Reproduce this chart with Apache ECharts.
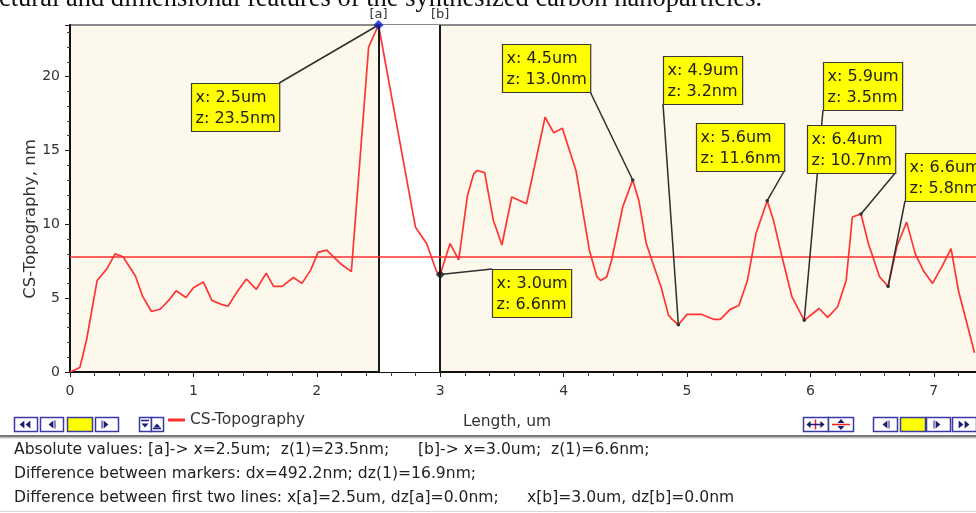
<!DOCTYPE html>
<html>
<head>
<meta charset="utf-8">
<script src="https://cdn.jsdelivr.net/npm/echarts@6/dist/echarts.min.js"></script>
<style>
  html, body { margin: 0; padding: 0; background: #fff; overflow: hidden; width: 976px; height: 513px; }
  #chart { width: 1010px; height: 513px; }
</style>
</head>
<body>
<div id="chart"></div>
<script>
// Cross-section profile: position along the scan line (um) and height (nm)
const lengthUm = [
  0.00, 0.08, 0.135, 0.22, 0.30, 0.365, 0.43, 0.53, 0.59, 0.66,
  0.73, 0.80, 0.86, 0.94, 1.00, 1.08, 1.15, 1.22, 1.28, 1.36,
  1.43, 1.51, 1.59, 1.65, 1.72, 1.81, 1.88, 1.95, 2.01, 2.08,
  2.19, 2.28, 2.42, 2.50, 2.76, 2.80, 2.89, 2.97, 3.00, 3.08,
  3.15, 3.22, 3.27, 3.30, 3.36, 3.43, 3.50, 3.58, 3.70, 3.85,
  3.92, 3.99, 4.10, 4.21, 4.27, 4.30, 4.35, 4.39, 4.48, 4.56,
  4.61, 4.67, 4.72, 4.79, 4.85, 4.88, 4.93, 5.00, 5.12, 5.22,
  5.27, 5.35, 5.42, 5.49, 5.56, 5.65, 5.70, 5.77, 5.85, 5.95,
  6.07, 6.14, 6.22, 6.29, 6.34, 6.41, 6.47, 6.56, 6.63, 6.70,
  6.78, 6.85, 6.92, 6.99, 7.07, 7.14, 7.20, 7.33
];
const heightNm = [
  0.0, 0.3, 2.2, 6.2, 7.0, 8.0, 7.8, 6.5, 5.1, 4.1,
  4.25, 4.85, 5.5, 5.05, 5.7, 6.1, 4.85, 4.6, 4.45, 5.5,
  6.3, 5.6, 6.7, 5.8, 5.8, 6.4, 6.0, 6.9, 8.1, 8.25,
  7.35, 6.8, 22.0, 23.5, 11.6, 9.8, 8.7, 6.8, 6.6, 8.7,
  7.6, 11.9, 13.4, 13.65, 13.5, 10.3, 8.6, 11.85, 11.4, 17.25,
  16.2, 16.5, 13.65, 8.2, 6.45, 6.2, 6.45, 7.6, 11.2, 13.0,
  11.6, 8.7, 7.45, 5.76, 3.85, 3.56, 3.2, 3.9, 3.9, 3.56,
  3.56, 4.24, 4.5, 6.2, 9.4, 11.6, 10.3, 7.8, 5.1, 3.5,
  4.3, 3.7, 4.4, 6.2, 10.5, 10.7, 8.7, 6.45, 5.8, 8.5,
  10.15, 8.0, 6.8, 6.0, 7.2, 8.35, 5.5, 1.3
];

// Reference level and the two cursor markers
const levelNm = 7.8;
const markerA = 2.5;
const markerB = 3.0;

// Points that carry a value call-out (x positions present in lengthUm)
const calloutX = [2.5, 4.56, 4.93, 5.65, 5.95, 6.41, 6.63, 3.0];
// Call-out box placement (top-left, px) and which corner the leader leaves from
const calloutBox = [
  [191, 83, 'tr'], [502, 44, 'br'], [663, 56, 'bl'], [696, 123, 'br'],
  [823, 62, 'bl'], [807, 125, 'br'], [905, 153, 'bl'], [492, 269, 'tl']
];

const captionText = 'ctural and dimensional features of the synthesized carbon nanoparticles.';
const infoLines = [
  ['Absolute values: [a]-> x=2.5um;  z(1)=23.5nm;', '[b]-> x=3.0um;  z(1)=6.6nm;'],
  ['Difference between markers: dx=492.2nm; dz(1)=16.9nm;', ''],
  ['Difference between first two lines: x[a]=2.5um, dz[a]=0.0nm;', 'x[b]=3.0um, dz[b]=0.0nm']
];

const FONT = '"DejaVu Sans", Verdana, sans-serif';
const chart = echarts.init(document.getElementById('chart'), null, { renderer: 'canvas' });

const profile = lengthUm.map((x, i) => [x, heightNm[i]]);
function zAt(x) { return heightNm[lengthUm.indexOf(x)]; }

chart.setOption({
  animation: false,
  backgroundColor: '#ffffff',
  grid: {
    left: 70, top: 25, right: 14.5, bottom: 141,
    show: true, backgroundColor: '#fcf8ec', borderColor: '#8a8a8a', borderWidth: 2
  },
  legend: {
    data: ['CS-Topography'],
    left: 168, top: 412, padding: 0,
    icon: 'rect', itemWidth: 17, itemHeight: 3, itemGap: 6,
    textStyle: { fontFamily: FONT, fontSize: 15.5, color: '#333' }
  },
  xAxis: {
    type: 'value', min: 0, max: 7.5, interval: 1,
    axisLine: { show: true, onZero: false, lineStyle: { color: '#111', width: 2 } },
    axisTick: { show: true, inside: false, length: 5, lineStyle: { color: '#222', width: 1 } },
    minorTick: { show: true, splitNumber: 5, length: 4, lineStyle: { color: '#444', width: 1 } },
    axisLabel: { showMaxLabel: false, fontFamily: FONT, fontSize: 14, color: '#333', margin: 12 },
    splitLine: { show: false }
  },
  yAxis: {
    type: 'value', min: 0, max: 23.5, interval: 5,
    axisLine: { show: true, onZero: false, lineStyle: { color: '#111', width: 2 } },
    axisTick: { show: true, inside: false, length: 5, lineStyle: { color: '#222', width: 1 } },
    minorTick: { show: true, splitNumber: 5, length: 3, lineStyle: { color: '#444', width: 1 } },
    axisLabel: { showMaxLabel: false, fontFamily: FONT, fontSize: 14, color: '#333', margin: 10 },
    splitLine: { show: false }
  },
  series: [
    {
      name: 'CS-Topography',
      type: 'line',
      data: profile,
      showSymbol: false,
      color: '#ff3030',
      lineStyle: { color: '#ff3434', width: 1.7 },
      markArea: {
        silent: true,
        itemStyle: { color: '#ffffff', opacity: 1 },
        data: [[{ xAxis: markerA }, { xAxis: markerB }]]
      },
      markLine: {
        silent: true,
        symbol: ['none', 'none'],
        data: [
          { xAxis: markerA, lineStyle: { color: '#1a1a1a', width: 2, type: 'solid' },
            label: { show: true, position: 'end', formatter: '[a]', distance: 4,
                     fontFamily: FONT, fontSize: 13, color: '#333' } },
          { xAxis: markerB, lineStyle: { color: '#1a1a1a', width: 2, type: 'solid' },
            label: { show: true, position: 'end', formatter: '[b]', distance: 4,
                     fontFamily: FONT, fontSize: 13, color: '#333' } },
          { yAxis: levelNm, lineStyle: { color: '#ff3030', width: 1.7, type: 'solid' },
            label: { show: false } }
        ]
      },
      z: 3
    },
    {
      name: 'cursor-a',
      type: 'scatter',
      data: [[markerA, zAt(markerA)]],
      symbol: 'diamond', symbolSize: 10,
      itemStyle: { color: '#0018d8' },
      z: 6
    },
    {
      name: 'cursor-b',
      type: 'scatter',
      data: [[markerB, zAt(markerB)]],
      symbol: 'diamond', symbolSize: 9,
      itemStyle: { color: '#111' },
      z: 6
    }
  ]
});

// ---- overlay drawing: call-outs, toolbar, caption, info text ----
const measureCtx = document.createElement('canvas').getContext('2d');
function textWidth(str, size, family) {
  measureCtx.font = size + 'px ' + (family || FONT);
  return measureCtx.measureText(str).width;
}
function fmtTrunc(v) { return (Math.floor(v * 10 + 1e-6) / 10).toFixed(1); }

const g = [];
const BOX_FONT = 16, BOX_PAD_X = 4, BOX_PAD_Y = 3, BOX_LH = 21;

calloutX.forEach((x, i) => {
  const z = zAt(x);
  const p = chart.convertToPixel({ gridIndex: 0 }, [x, z]);
  const lines = ['x: ' + fmtTrunc(x) + 'um', 'z: ' + z.toFixed(1) + 'nm'];
  const w = Math.max(...lines.map(s => textWidth(s, BOX_FONT))) + BOX_PAD_X * 2;
  const h = BOX_LH * 2 + BOX_PAD_Y * 2;
  const [bx, by, corner] = calloutBox[i];
  const ax = corner[1] === 'r' ? bx + w : bx;
  const ay = corner[0] === 'b' ? by + h : by;
  g.push({ type: 'line', silent: true, z: 40,
           shape: { x1: ax, y1: ay, x2: p[0], y2: p[1] },
           style: { stroke: '#2e2e2e', lineWidth: 1.5 } });
  if (x !== markerA && x !== markerB) {
    g.push({ type: 'circle', silent: true, z: 41, shape: { cx: p[0], cy: p[1], r: 1.8 },
             style: { fill: '#333' } });
  }
  g.push({ type: 'rect', silent: true, z: 60,
           shape: { x: bx + 0.5, y: by + 0.5, width: w, height: h },
           style: { fill: '#ffff00', stroke: '#3a3a3a', lineWidth: 1.2 } });
  g.push({ type: 'text', silent: true, z: 61, x: bx + BOX_PAD_X + 0.5, y: by + BOX_PAD_Y + 1,
           style: { text: lines.join('\n'), font: BOX_FONT + 'px ' + FONT, fill: '#222',
                    lineHeight: BOX_LH, align: 'left', verticalAlign: 'top' } });
});

// axis titles
g.push({ type: 'text', silent: true, z: 30, x: 31, y: 219, rotation: Math.PI / 2,
         style: { text: 'CS-Topography, nm', font: '16.5px ' + FONT, fill: '#333',
                  align: 'center', verticalAlign: 'middle' } });
g.push({ type: 'text', silent: true, z: 30, x: 507, y: 422,
         style: { text: 'Length, um', font: '15.5px ' + FONT, fill: '#333',
                  align: 'center', verticalAlign: 'middle' } });

// caption fragment along the top edge
g.push({ type: 'text', silent: true, z: 30, x: -1, y: 12.5,
         style: { text: captionText, font: '26.5px "Liberation Serif", "Times New Roman", serif',
                  fill: '#111', align: 'left', verticalAlign: 'bottom' } });

// toolbar buttons
const BTN_Y = 417, BTN_H = 14, BTN_STROKE = '#3a3aa6', GLYPH = '#1b1b78';
function button(x, w, fill) {
  g.push({ type: 'rect', silent: true, z: 50,
           shape: { x: x + 0.5, y: BTN_Y + 0.5, width: w, height: BTN_H },
           style: { fill: fill || '#ffffff', stroke: BTN_STROKE, lineWidth: 1.5 } });
}
function tri(cx, cy, dir, s, color) {
  s = s || 4;
  let pts;
  if (dir === 'l') pts = [[cx + s * 0.6, cy - s], [cx + s * 0.6, cy + s], [cx - s * 0.6, cy]];
  else if (dir === 'r') pts = [[cx - s * 0.6, cy - s], [cx - s * 0.6, cy + s], [cx + s * 0.6, cy]];
  else if (dir === 'u') pts = [[cx - s, cy + s * 0.6], [cx + s, cy + s * 0.6], [cx, cy - s * 0.6]];
  else pts = [[cx - s, cy - s * 0.6], [cx + s, cy - s * 0.6], [cx, cy + s * 0.6]];
  g.push({ type: 'polygon', silent: true, z: 51, shape: { points: pts }, style: { fill: color || GLYPH } });
}
function bar(x1, y1, x2, y2, color, lw) {
  g.push({ type: 'line', silent: true, z: 51, shape: { x1, y1, x2, y2 },
           style: { stroke: color, lineWidth: lw || 1.5 } });
}
const cy = BTN_Y + BTN_H / 2 + 0.5;
// left group
button(14, 23); tri(22, cy, 'l'); tri(28, cy, 'l');
button(40, 23); tri(51, cy, 'l'); bar(55, cy - 4, 55, cy + 4, GLYPH, 1);
button(67, 25, '#ffff00');
button(95, 23); tri(106, cy, 'r'); bar(102, cy - 4, 102, cy + 4, GLYPH, 1);
button(139, 12); tri(145, cy + 1, 'd', 3.5); bar(141, cy - 4, 149, cy - 4, GLYPH, 1.5);
button(151, 12); tri(157, cy + 1, 'u', 3.5); bar(153, cy + 4, 161, cy + 4, GLYPH, 1.5);
// right group
button(803, 25); bar(815.5, cy - 5, 815.5, cy + 5, '#ee2020', 1.5);
tri(808.5, cy, 'l', 3.5); tri(822.5, cy, 'r', 3.5); bar(808, cy, 823, cy, GLYPH, 1.5);
button(828, 25); bar(832, cy, 850, cy, '#ee2020', 1.5);
tri(841, cy - 3.5, 'u', 3.5); tri(841, cy + 3.5, 'd', 3.5);
button(873, 24); tri(885, cy, 'l'); bar(889, cy - 4, 889, cy + 4, GLYPH, 1);
button(900, 25, '#ffff00');
button(926, 24); tri(938, cy, 'r'); bar(934, cy - 4, 934, cy + 4, GLYPH, 1);
button(952, 24); tri(961, cy, 'r'); tri(967, cy, 'r');

// separator under toolbar
g.push({ type: 'rect', silent: true, z: 50, shape: { x: 0, y: 435, width: 1010, height: 2.5 },
         style: { fill: '#7a7a7a' } });
g.push({ type: 'rect', silent: true, z: 50, shape: { x: 0, y: 437.5, width: 1010, height: 1 },
         style: { fill: '#c8c8c8' } });
g.push({ type: 'rect', silent: true, z: 50, shape: { x: 0, y: 511, width: 1010, height: 1 },
         style: { fill: '#d8d8d8' } });

// info text block
const INFO_FONT = 15.6;
const infoY = [450, 474, 498];
const infoX2 = [418, 0, 527];
infoLines.forEach((pair, i) => {
  g.push({ type: 'text', silent: true, z: 50, x: 14, y: infoY[i],
           style: { text: pair[0], font: INFO_FONT + 'px ' + FONT, fill: '#222', align: 'left', verticalAlign: 'middle' } });
  if (pair[1]) {
    g.push({ type: 'text', silent: true, z: 50, x: infoX2[i], y: infoY[i],
             style: { text: pair[1], font: INFO_FONT + 'px ' + FONT, fill: '#222', align: 'left', verticalAlign: 'middle' } });
  }
});

chart.setOption({ graphic: { elements: g } });
</script>
</body>
</html>
